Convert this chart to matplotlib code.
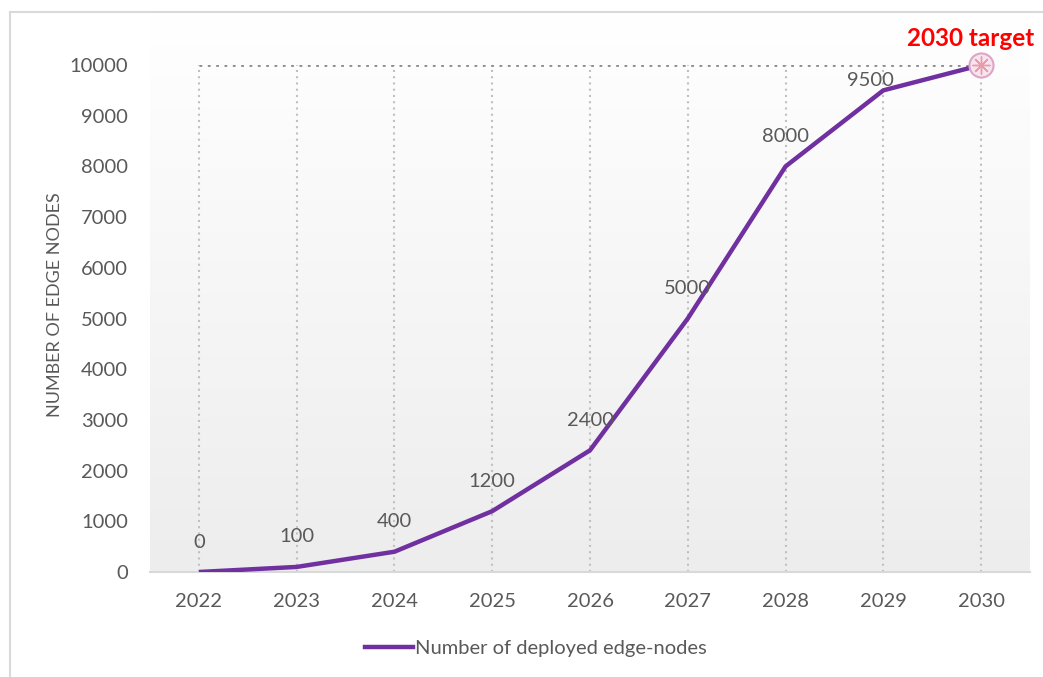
import numpy as np
import matplotlib
matplotlib.use("Agg")
import matplotlib.pyplot as plt
from matplotlib.lines import Line2D

# data
years = [2022, 2023, 2024, 2025, 2026, 2027, 2028, 2029, 2030]
nodes = [0, 100, 400, 1200, 2400, 5000, 8000, 9500, 10000]
labelled = [0, 100, 400, 1200, 2400, 5000, 8000, 9500]
target_year = 2030
target_value = 10000
yticks = [0, 1000, 2000, 3000, 4000, 5000, 6000, 7000, 8000, 9000, 10000]

plt.rcParams['font.family'] = ['Lato', 'DejaVu Sans']
grey_text = "#595959"
purple = "#7030A0"

fig = plt.figure(figsize=(10.43, 6.77), dpi=100)
ax = fig.add_axes([150 / 1043, 105 / 677, 880 / 1043, 507 / 677])

# gradient background of the plot area (white at top, light grey at bottom)
grad = np.linspace(0, 1, 256).reshape(-1, 1)
ax.imshow(grad, extent=[2021.5, 2030.5, 0, 11000], aspect='auto',
          cmap=matplotlib.colors.LinearSegmentedColormap.from_list('g', ['#ededed', '#ffffff']),
          origin='lower', zorder=0, clip_on=False)
ax.set_xlim(2021.5, 2030.5)
ax.set_ylim(0, 10000)

# vertical dotted gridlines
for yr in years:
    ax.plot([yr, yr], [0, target_value], color='#c0c0c0', linestyle=(0, (1, 2)), lw=1.5, zorder=1)
# target level dotted line
ax.plot([years[0], target_year], [target_value, target_value], color='#8c8c8c',
        linestyle=(0, (1, 2)), lw=2, zorder=1)

ax.plot(years, nodes, color=purple, lw=3.2, solid_capstyle='butt', zorder=3)

# target marker
ax.scatter([target_year], [target_value], s=300, facecolor='#f8e4ee', edgecolor='#dba6c4',
           linewidth=1.5, zorder=4, clip_on=False)
ax.scatter([target_year], [target_value], s=150, marker=(8, 2, 0), color='#eb9aaa',
           linewidth=1.0, zorder=5, clip_on=False)
ax.annotate("2030 target", (target_year, target_value), xytext=(-10, 26),
            textcoords='offset pixels', ha='center', va='center', color='#ff0000',
            fontsize=17.5, fontweight='bold', annotation_clip=False)

# data labels
for i, v in enumerate(labelled):
    off = (0, 30)
    if i == len(labelled) - 1:
        off = (-13, 10)
    ax.annotate(str(v), (years[i], v), xytext=off, textcoords='offset pixels',
                ha='center', va='center', color=grey_text, fontsize=14.5)

ax.set_xticks(years)
ax.set_yticks(yticks)
ax.tick_params(axis='both', length=0, labelsize=14.5, labelcolor=grey_text)
ax.tick_params(axis='x', pad=15)
ax.tick_params(axis='y', pad=16)
for s in ['top', 'right', 'left']:
    ax.spines[s].set_visible(False)
ax.spines['bottom'].set_color('#d9d9d9')
ax.spines['bottom'].set_linewidth(1.5)
ax.spines['bottom'].set_zorder(2)

fig.text(55 / 1043, 1 - 305 / 677, "NUMBER OF EDGE NODES", rotation=90, ha='center',
         va='center', color=grey_text, fontsize=13)

handle = Line2D([], [], color=purple, lw=3.2)
fig.legend([handle], ["Number of deployed edge-nodes"], loc='center',
           bbox_to_anchor=(536 / 1043, 1 - 648 / 677), frameon=False, fontsize=14.5,
           handlelength=2.4, handletextpad=0.1, labelcolor=grey_text)

# outer chart frame (left and top edges visible)
fig.add_artist(Line2D([10 / 1043, 10 / 1043], [0, 1 - 12 / 677], color='#d9d9d9', lw=1.5))
fig.add_artist(Line2D([10 / 1043, 1], [1 - 12 / 677, 1 - 12 / 677], color='#d9d9d9', lw=1.5))

fig.savefig("out.png", dpi=100)
